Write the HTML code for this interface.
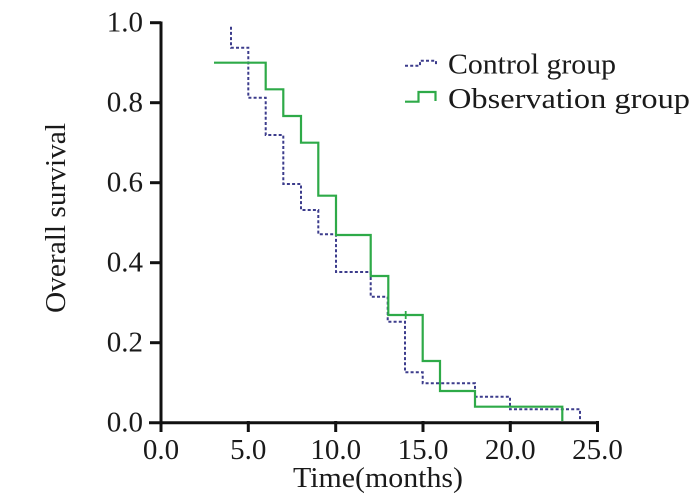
<!DOCTYPE html>
<html>
<head>
<meta charset="utf-8">
<style>
  html, body { margin: 0; padding: 0; background: #ffffff; }
  body { width: 700px; height: 495px; overflow: hidden; }
  svg { display: block; }
  text { font-family: "Liberation Serif", "Times New Roman", serif; fill: #1a1a1a; }
</style>
</head>
<body>
<svg width="700" height="495" viewBox="0 0 700 495" xmlns="http://www.w3.org/2000/svg">
  <rect x="0" y="0" width="700" height="495" fill="#ffffff"/>

  <!-- Axes -->
  <g stroke="#111" stroke-width="3" fill="none">
    <line x1="161" y1="21.5" x2="161" y2="424"/>
    <line x1="149" y1="422.7" x2="599" y2="422.7"/>
    <!-- y ticks -->
    <line x1="150" y1="22.7" x2="161" y2="22.7"/>
    <line x1="150" y1="102.7" x2="161" y2="102.7"/>
    <line x1="150" y1="182.7" x2="161" y2="182.7"/>
    <line x1="150" y1="262.7" x2="161" y2="262.7"/>
    <line x1="150" y1="342.7" x2="161" y2="342.7"/>
    <!-- x ticks -->
    <line x1="161" y1="421" x2="161" y2="432"/>
    <line x1="248.3" y1="421" x2="248.3" y2="432"/>
    <line x1="335.7" y1="421" x2="335.7" y2="432"/>
    <line x1="423" y1="421" x2="423" y2="432"/>
    <line x1="510.3" y1="421" x2="510.3" y2="432"/>
    <line x1="597.5" y1="421" x2="597.5" y2="432"/>
  </g>

  <!-- Y tick labels -->
  <g font-size="29" text-anchor="end">
    <text x="143" y="31.5">1.0</text>
    <text x="143" y="111.5">0.8</text>
    <text x="143" y="191.5">0.6</text>
    <text x="143" y="271.5">0.4</text>
    <text x="143" y="351.5">0.2</text>
    <text x="143" y="431.5">0.0</text>
  </g>

  <!-- X tick labels -->
  <g font-size="29" text-anchor="middle">
    <text x="161" y="459">0.0</text>
    <text x="248.3" y="459">5.0</text>
    <text x="335.7" y="459">10.0</text>
    <text x="423" y="459">15.0</text>
    <text x="510.3" y="459">20.0</text>
    <text x="597.5" y="459">25.0</text>
  </g>

  <!-- Axis titles -->
  <text x="293" y="487" font-size="29" textLength="170" lengthAdjust="spacingAndGlyphs">Time(months)</text>
  <text transform="translate(65,218) rotate(-90)" font-size="29" text-anchor="middle" textLength="190" lengthAdjust="spacingAndGlyphs">Overall survival</text>

  <!-- Control group (dashed) -->
  <path d="M231 26.7 V47.7 H248.3 V97.7 H265.7 V135 H283.3 V184 H301 V210 H318.3 V234.3 H336 V272 H370.7 V296.7 H387.7 V321.7 H405 V372.3 H422.7 V383.3 H475 V396.7 H510 V409.3 H580 V421"
        fill="none" stroke="#3c3c8c" stroke-width="2" stroke-dasharray="3 2.2"/>

  <!-- Observation group (solid green) -->
  <path d="M214 62.7 H265.7 V89.3 H283.3 V116 H301 V142.7 H318.3 V195.7 H336 V235 H370.7 V276 H388.3 V315 H422.7 V361 H440 V391 H475 V406.7 H562.3 V421"
        fill="none" stroke="#2eaa48" stroke-width="2.2"/>
  <!-- censor mark -->
  <g stroke="#2eaa48" stroke-width="1.8">
    <line x1="401.5" y1="315" x2="410" y2="315"/>
    <line x1="405.7" y1="311" x2="405.7" y2="319"/>
  </g>

  <!-- Legend -->
  <path d="M405 65.7 H420 V60.7 H436 V64.5" fill="none" stroke="#3c3c8c" stroke-width="2" stroke-dasharray="3 2.2"/>
  <path d="M405 101.7 H418.5 V92 H435.5 V101" fill="none" stroke="#2eaa48" stroke-width="2.2"/>
  <text x="448" y="73.3" font-size="29" textLength="168" lengthAdjust="spacingAndGlyphs">Control group</text>
  <text x="448" y="108" font-size="29" textLength="242" lengthAdjust="spacingAndGlyphs">Observation group</text>
</svg>
</body>
</html>
